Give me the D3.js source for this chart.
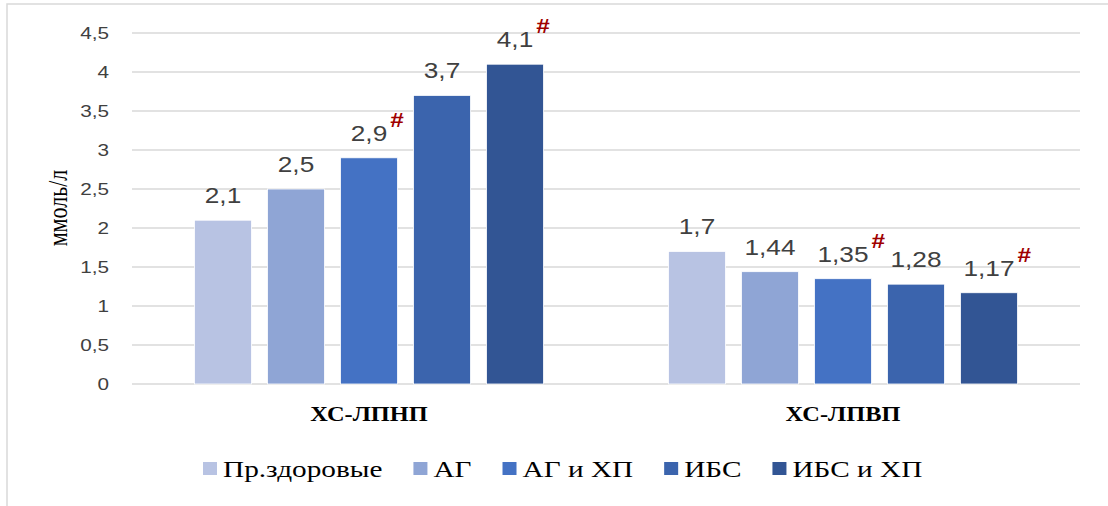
<!DOCTYPE html>
<html lang="ru">
<head>
<meta charset="utf-8">
<script src="https://cdn.jsdelivr.net/npm/d3@7"></script>
<style>
  html, body { margin: 0; padding: 0; background: #fff; }
  svg { display: block; }
</style>
</head>
<body>
<svg id="chart" width="1108" height="506"></svg>
<script>
// Lipid fractions by patient group
const categories = ["ХС-ЛПНП", "ХС-ЛПВП"];
const groups = ["Пр.здоровые", "АГ", "АГ и ХП", "ИБС", "ИБС и ХП"];
const ldl = [2.1, 2.5, 2.9, 3.7, 4.1];
const hdl = [1.7, 1.44, 1.35, 1.28, 1.17];
const ldlLabels = ["2,1", "2,5", "2,9", "3,7", "4,1"];
const hdlLabels = ["1,7", "1,44", "1,35", "1,28", "1,17"];
// "#" = significant difference
const ldlMarks = [false, false, true, false, true];
const hdlMarks = [false, false, true, false, true];
const yTicks = [0, 0.5, 1, 1.5, 2, 2.5, 3, 3.5, 4, 4.5];
const yTickLabels = ["0", "0,5", "1", "1,5", "2", "2,5", "3", "3,5", "4", "4,5"];
const yTitle = "ммоль/л";

const seriesValues = [ldl, hdl];
const seriesLabels = [ldlLabels, hdlLabels];
const seriesMarks = [ldlMarks, hdlMarks];

const colors = ["#B8C3E3", "#8FA5D5", "#4472C4", "#3B64AD", "#325594"];
const SX = 1.22; // horizontal text stretch
const W = 1108, H = 506;
const plot = { left: 132, right: 1080, top: 33, bottom: 384 };

const svg = d3.select("#chart");

// frame (top and left edges visible)
svg.append("rect")
  .attr("x", 7).attr("y", 4).attr("width", W + 20).attr("height", H + 20)
  .attr("fill", "none").attr("stroke", "#d9d9d9").attr("stroke-width", 1.5);

const y = d3.scaleLinear().domain([0, 4.5]).range([plot.bottom, plot.top]);
const x0 = d3.scaleBand().domain(categories).range([plot.left, plot.right]).padding(0);
const x1 = d3.scaleBand().domain(groups).range([0, x0.bandwidth()])
  .paddingInner(0.219).paddingOuter(0.856);

function stretchedText(sel, px, py) {
  return sel.attr("x", 0).attr("y", 0)
    .attr("transform", `translate(${px},${py}) scale(${SX},1)`);
}

// gridlines
svg.append("g").selectAll("line").data(yTicks).join("line")
  .attr("x1", plot.left).attr("x2", plot.right)
  .attr("y1", d => y(d)).attr("y2", d => y(d))
  .attr("stroke", "#d9d9d9").attr("stroke-width", 1.5);

// y tick labels
const tickG = svg.append("g");
yTicks.forEach((t, i) => {
  stretchedText(tickG.append("text"), 109, y(t) + 6)
    .attr("text-anchor", "end")
    .attr("font-family", "Liberation Sans, Arial, sans-serif")
    .attr("font-size", 17).attr("fill", "#404040")
    .text(yTickLabels[i]);
});

// y title
svg.append("text")
  .attr("transform", `translate(67,208) rotate(-90) scale(1,${SX})`)
  .attr("text-anchor", "middle")
  .attr("font-family", "Liberation Serif, Times New Roman, serif")
  .attr("font-size", 22).attr("fill", "#000")
  .text(yTitle);

// bars
const barG = svg.append("g");
categories.forEach((cat, ci) => {
  const g = barG.append("g").attr("transform", `translate(${x0(cat)},0)`);
  g.selectAll("rect").data(seriesValues[ci]).join("rect")
    .attr("x", (d, i) => x1(groups[i]))
    .attr("y", d => y(d))
    .attr("width", x1.bandwidth())
    .attr("height", d => y(0) - y(d))
    .attr("fill", (d, i) => colors[i])
    .attr("stroke", "#ffffff").attr("stroke-width", 0.8);

  seriesValues[ci].forEach((v, i) => {
    const cx = x0(cat) + x1(groups[i]) + x1.bandwidth() / 2;
    const by = y(v) - 17;
    const lbl = stretchedText(barG.append("text"), cx, by)
      .attr("text-anchor", "middle")
      .attr("font-family", "Liberation Sans, Arial, sans-serif")
      .attr("font-size", 21.5).attr("fill", "#404040")
      .text(seriesLabels[ci][i]);
    if (seriesMarks[ci][i]) {
      const w = lbl.node().getComputedTextLength() * SX;
      stretchedText(barG.append("text"), cx + w / 2 + 3, by - 14)
        .attr("font-family", "Liberation Sans, Arial, sans-serif")
        .attr("font-weight", "bold")
        .attr("font-size", 20).attr("fill", "#A00000")
        .text("#");
    }
  });
});

// category labels
categories.forEach(cat => {
  stretchedText(svg.append("text"), x0(cat) + x0.bandwidth() / 2, 421)
    .attr("text-anchor", "middle")
    .attr("font-family", "Liberation Serif, Times New Roman, serif")
    .attr("font-weight", "bold")
    .attr("font-size", 20).attr("fill", "#000")
    .text(cat);
});

// legend
const legend = svg.append("g");
let lx = 203;
groups.forEach((name, i) => {
  legend.append("rect")
    .attr("x", lx).attr("y", 462).attr("width", 14).attr("height", 13)
    .attr("fill", colors[i]);
  const t = stretchedText(legend.append("text"), lx + 20, 477)
    .attr("font-family", "Liberation Serif, Times New Roman, serif")
    .attr("font-size", 24).attr("fill", "#000")
    .text(name);
  lx += 20 + t.node().getComputedTextLength() * SX + 31;
});
</script>
</body>
</html>
